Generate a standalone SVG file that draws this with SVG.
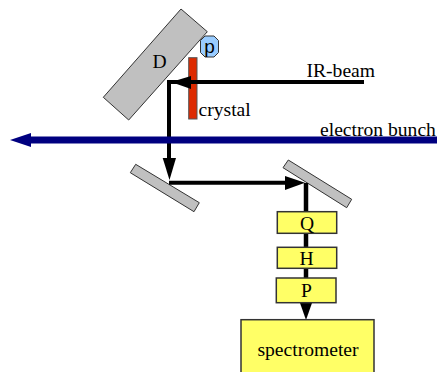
<svg xmlns="http://www.w3.org/2000/svg" width="437" height="372" viewBox="0 0 437 372">
<style>
text{font-family:"Liberation Serif","Times New Roman",serif;font-size:19.600px;fill:#000}
.m{fill:#c0c0c0;stroke:#333;stroke-width:1}
.y{fill:#ffff66;stroke:#333;stroke-width:1.5}
.c{fill:none;stroke:#000;stroke-width:4}
.a{fill:#000}
.mid{text-anchor:middle}
</style>
<g id="mirror-D"><polygon class="m" points="181,9 207.3,31.7 128.7,120 103.3,97.3"/><text class="mid" x="159.500" y="68">D</text></g>
<g id="p"><polygon points="205,36 214,36 218.5,40.500 218.500,52.500 214,57 205,57 200.500,52.500 200.500,40.500" fill="#99ccff" stroke="#333" stroke-width="1"/><text class="mid" x="209.500" y="53" style="font-family:'Liberation Sans',Arial,sans-serif;font-size:19px">p</text></g>
<g id="crystal"><rect x="188.700" y="57.700" width="8.300" height="61.300" fill="#dd2a00" stroke="#555" stroke-width="1"/><text x="198.500" y="115.500">crystal</text></g>
<g id="mirror-1"><polygon class="m" points="135.700,164.300 199.300,202.700 194,211.700 130.300,172.700"/></g>
<g id="mirror-2"><polygon class="m" points="288.300,160 351.700,199.300 346.700,207.700 283,167.700"/></g>
<g id="connectors">
<path class="c" d="M364,82H169V160"/>
<polygon class="a" points="171,82 191,76 191,89"/>
<polygon class="a" points="169.500,180 162.700,158 176,158"/>
<path class="c" d="M169,182.700H287"/>
<polygon class="a" points="305,182.700 285,176 285,190"/>
<path d="M306,183V305" fill="none" stroke="#000" stroke-width="4.500"/>
<polygon class="a" points="306,320 300,303 312,303"/>
<path d="M437,140H30" fill="none" stroke="#000080" stroke-width="7"/>
<polygon points="10,140 31,133 31,147" fill="#000080"/>
</g>
<g id="Q"><rect class="y" x="277.300" y="211.700" width="59.400" height="21.600"/><text class="mid" x="307" y="229.500">Q</text></g>
<g id="H"><rect class="y" x="277.300" y="247.300" width="59.400" height="21"/><text class="mid" x="306.500" y="265">H</text></g>
<g id="P"><rect class="y" x="276.300" y="278" width="59.700" height="24.700"/><text class="mid" x="306.500" y="297">P</text></g>
<g id="spectrometer"><rect class="y" x="241" y="319.700" width="133" height="60"/><text class="mid" x="308" y="355.500">spectrometer</text></g>
<g id="labels"><text x="306.500" y="76.500">IR-beam</text><text x="320" y="135.500">electron bunch</text></g>
</svg>
